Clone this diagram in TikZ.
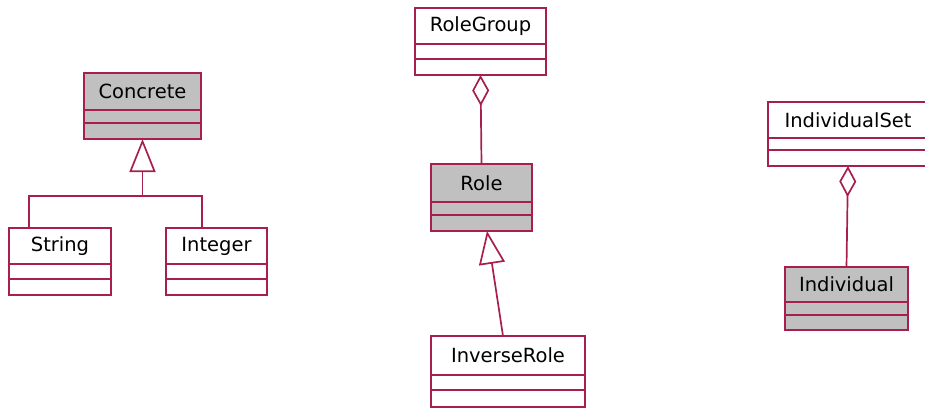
\documentclass[tikz,border=0pt]{standalone}
\usepackage{fontspec}
\setmainfont{DejaVu Sans}
\usetikzlibrary{positioning}
\usetikzlibrary{calc}
\usetikzlibrary{arrows.meta}
\definecolor{umlred}{RGB}{168,30,78}
\definecolor{umlgray}{RGB}{192,192,192}
\tikzset{uml/.style={draw=umlred, line width=1.7pt, inner sep=0pt, outer sep=0pt, font=\fontsize{19.5}{22}\selectfont}}
\tikzset{title/.style={uml, anchor=north west}}
\tikzset{slot/.style={uml, anchor=north, minimum height=#1}}
\tikzset{link/.style={draw=umlred, line width=1.7pt}}
\tikzset{isa/.style={link, -{Triangle[open, length=33pt, width=26pt, line width=1.7pt]}}}
\tikzset{has/.style={link, {Diamond[open, length=31pt, width=17pt, line width=1.7pt]}-}}

% class box: title row plus two empty compartments
% #1 title height, #2 name, #3 text, #4 corner, #5 width, #6 fill, #7/#8 compartments
\newcommand\umlclass[8][37]{%
  \node[title, minimum width=#5, minimum height=#1, fill=#6] (#2) at #4 {#3};
  \node[slot=#7, minimum width=#5, fill=#6] (#2-a) at (#2.south) {};
  \node[slot=#8, minimum width=#5, fill=#6] (#2-b) at (#2-a.south) {};
}

\begin{document}
\begin{tikzpicture}[x=1pt, y=-1pt]
\useasboundingbox (0,0) rectangle (925,410);
\clip (0,0) rectangle (925,410);

% datatypes
\umlclass{concrete}{Concrete}{(84,73)}{117}{umlgray}{13}{16}
\umlclass[36]{string}{String}{(9,228)}{102}{white}{15}{16}
\umlclass[36]{integer}{Integer}{(166,228)}{101}{white}{15}{16}

\coordinate (fork) at ($(concrete-b.south)+(0,57)$);
\draw[link] ($(string.north west)+(20,0)$) |- (fork) -| ($(integer.north west)+(36,0)$);
\draw[isa] (fork) -- (concrete-b.south);

% roles
\umlclass[36]{rolegroup}{RoleGroup}{(415,8)}{131}{white}{15}{16}
\umlclass[38]{role}{Role}{(431,164)}{101}{umlgray}{13}{16}
\umlclass[39]{inverserole}{InverseRole}{(431,336)}{154}{white}{15}{17}

\draw[has] (rolegroup-b.south) -- (role.north);
\draw[isa] ($(inverserole.north west)+(72,0)$) -- ($(role-b.south west)+(56,0)$);

% individuals
\umlclass[36]{individualset}{IndividualSet}{(768,102)}{160}{white}{12}{16}
\umlclass[35]{individual}{Individual}{(785,267)}{123}{umlgray}{13}{15}

\draw[has] (individualset-b.south) -- (individual.north);
\end{tikzpicture}
\end{document}
